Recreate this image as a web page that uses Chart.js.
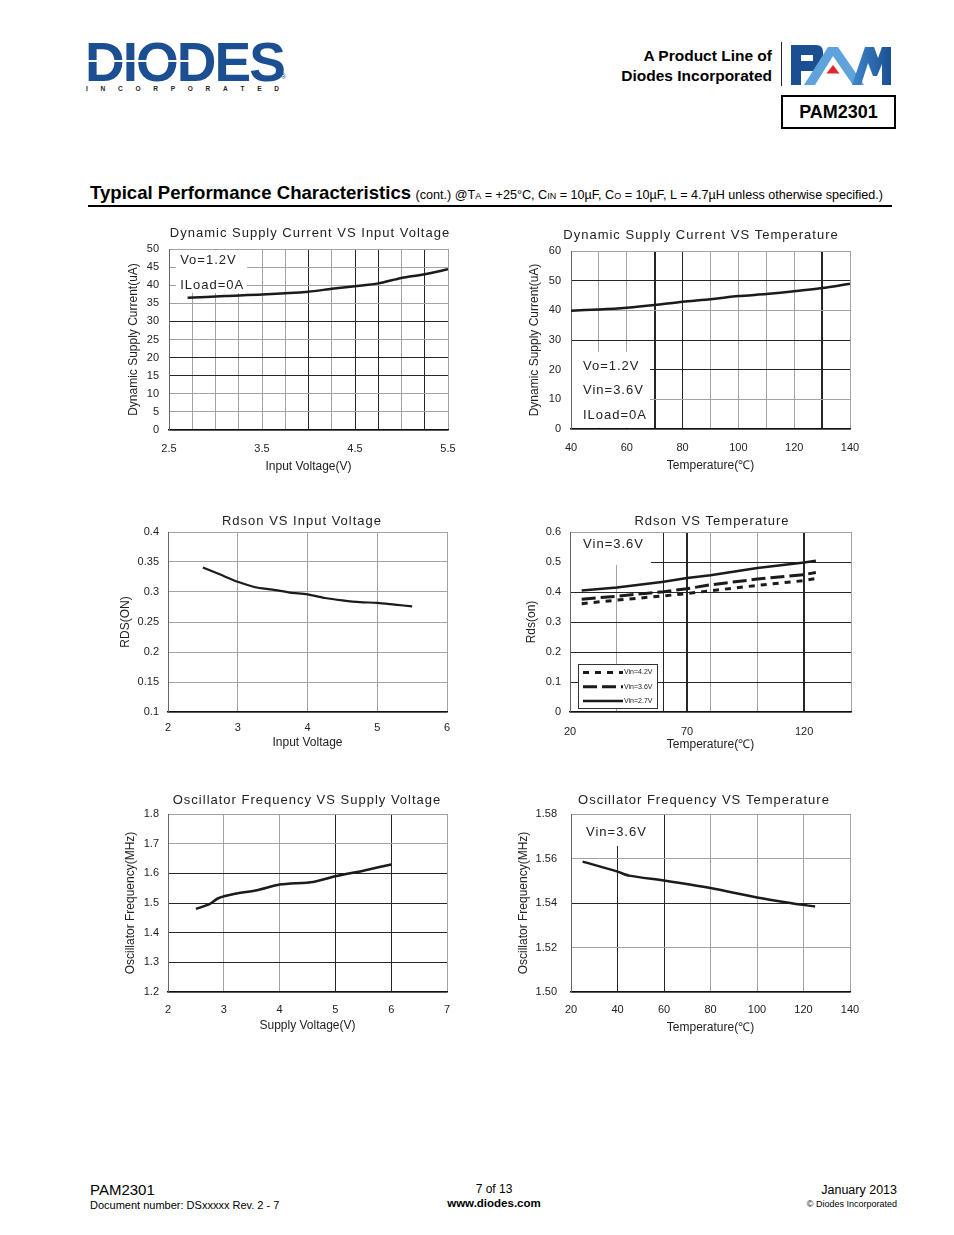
<!DOCTYPE html>
<html>
<head>
<meta charset="utf-8">
<script src="https://cdn.jsdelivr.net/npm/chart.js@4.4.1/dist/chart.umd.min.js"></script>
<style>
  body { margin: 0; background: #fff; font-family: "Liberation Sans", Arial, sans-serif; color: #000; }
  #page { position: relative; width: 954px; height: 1235px; overflow: hidden; background: #fff; }
  .abs { position: absolute; white-space: nowrap; }
  canvas { position: absolute; }
  sub { font-size: 9px; vertical-align: baseline; }
</style>
</head>
<body>
<div id="page">
  <!-- header -->
  <div class="abs" style="left:85px;top:35px;font:bold 55px/55px 'Liberation Sans';letter-spacing:-2px;color:#1b4f92">DIODES</div>
  <div class="abs" style="left:87px;top:60px;width:112px;height:2px;background:#fff"></div>
  <div class="abs" style="left:281px;top:73px;font:7px 'Liberation Sans';color:#1b4f92">®</div>
  <div class="abs" style="left:86px;top:85px;width:193px;display:flex;justify-content:space-between;font:bold 6.5px/7px 'Liberation Sans';color:#222">
    <span>I</span><span>N</span><span>C</span><span>O</span><span>R</span><span>P</span><span>O</span><span>R</span><span>A</span><span>T</span><span>E</span><span>D</span>
  </div>

  <div class="abs" style="right:182px;top:46px;font:bold 15.5px/20px 'Liberation Sans';text-align:right">A Product Line of<br>Diodes Incorporated</div>
  <div class="abs" style="left:781px;top:42px;width:1px;height:44px;background:#222"></div>
  <svg class="abs" style="left:790px;top:44px" width="102" height="44" viewBox="0 0 102 44">
    <defs>
      <linearGradient id="mg" x1="0" x2="1" y1="0" y2="0">
        <stop offset="0" stop-color="#3f86cc"/><stop offset="1" stop-color="#1b4f92"/>
      </linearGradient>
    </defs>
    <path d="M1 1 H26 Q33 1 33 8 V20 Q33 27 26 27 H11 V41 H1 Z M11 11 H23 V17 H11 Z" fill="#1b4f92" fill-rule="evenodd"/>
    <polygon points="14,41 38,3 48,3 74,41 63,41 43,12 25,41" fill="#5ea3db"/>
    <polygon points="36.5,29.5 43,21 49.5,29.5" fill="#e3262d"/>
    <polygon points="62,41 75,3 84,3 88,14 92,3 101,3 101,41 92,41 92,20 87,32 83,32 78,19 71,41" fill="url(#mg)"/>
  </svg>
  <div class="abs" style="left:781px;top:95px;width:111px;height:30px;border:2px solid #000;font:bold 18px/30px 'Liberation Sans';text-align:center">PAM2301</div>

  <!-- section heading -->
  <div class="abs" style="left:90px;top:182px;line-height:18px">
    <span style="font:bold 18.6px 'Liberation Sans'">Typical Performance Characteristics</span>
    <span style="font-size:12.6px">(cont.) @T<sub>A</sub> = +25°C, C<sub>IN</sub> = 10µF, C<sub>O</sub> = 10µF, L = 4.7µH unless otherwise specified.)</span>
  </div>
  <div class="abs" style="left:88px;top:205px;width:804px;height:2px;background:#000"></div>

  <!-- charts -->
  <canvas id="c1" width="336" height="255" style="left:126px;top:219px"></canvas>
  <canvas id="c2" width="337" height="252" style="left:527px;top:221px"></canvas>
  <canvas id="c3" width="343" height="248" style="left:118px;top:502px"></canvas>
  <canvas id="c4" width="341" height="250" style="left:524px;top:502px"></canvas>
  <canvas id="c5" width="338" height="249" style="left:123px;top:784px"></canvas>
  <canvas id="c6" width="348" height="251" style="left:516px;top:784px"></canvas>

  <!-- footer -->
  <div class="abs" style="left:90px;top:1182px;font-size:15px;line-height:15px">PAM2301</div>
  <div class="abs" style="left:90px;top:1200px;font-size:11px;line-height:11px">Document number: DSxxxxx Rev. 2 - 7</div>
  <div class="abs" style="left:394px;width:200px;top:1183px;font-size:12px;line-height:12px;text-align:center">7 of 13</div>
  <div class="abs" style="left:394px;width:200px;top:1198px;font:bold 11.5px/11.5px 'Liberation Sans';text-align:center">www.diodes.com</div>
  <div class="abs" style="right:57px;top:1184px;font-size:12.5px;line-height:12.5px;text-align:right">January 2013</div>
  <div class="abs" style="right:57px;top:1200px;font-size:9px;line-height:9px;text-align:right">© Diodes Incorporated</div>
</div>

<script>
// ---- 1. Dynamic Supply Current VS Input Voltage
const vinA = [2.7, 3.1, 3.5, 4.0, 4.25, 4.5, 4.75, 5.0, 5.25, 5.5];
const iddA = [36.5, 37.0, 37.4, 38.2, 39.0, 39.7, 40.5, 42.0, 43.0, 44.4];
const xLabA = [2.5, 3.5, 4.5, 5.5];

// ---- 2. Dynamic Supply Current VS Temperature
const tempB = [40, 50, 60, 70, 80, 90, 100, 110, 120, 130, 140];
const iddB = [39.9, 40.3, 40.9, 41.8, 42.9, 43.7, 44.8, 45.5, 46.4, 47.5, 49.0];
const xLabB = [40, 60, 80, 100, 120, 140];

// ---- 3. Rdson VS Input Voltage
const vinC = [2.5, 2.75, 3, 3.25, 3.5, 3.75, 4, 4.25, 4.5, 4.75, 5, 5.25, 5.5];
const rdsC = [0.341, 0.329, 0.317, 0.308, 0.304, 0.299, 0.296, 0.290, 0.286, 0.283, 0.282, 0.279, 0.276];

// ---- 4. Rdson VS Temperature
const tempD = [25, 40, 60, 70, 80, 100, 120, 125];
const rds42 = [0.361, 0.373, 0.387, 0.395, 0.404, 0.422, 0.438, 0.445];
const rds36 = [0.376, 0.386, 0.401, 0.411, 0.424, 0.443, 0.458, 0.465];
const rds27 = [0.405, 0.415, 0.434, 0.447, 0.456, 0.480, 0.498, 0.504];
const seriesD = ['Vin=4.2V', 'Vin=3.6V', 'Vin=2.7V'];
const xTickD = [20, 40, 60, 70, 80, 100, 120, 140];
const xLabD = [20, 70, 120];

// ---- 5. Oscillator Frequency VS Supply Voltage
const vinE = [2.5, 2.75, 2.9, 3.2, 3.6, 4.0, 4.6, 5.0, 5.5, 6.0];
const foscE = [1.480, 1.497, 1.516, 1.531, 1.543, 1.562, 1.571, 1.590, 1.609, 1.630];

// ---- 6. Oscillator Frequency VS Temperature
const tempF = [25, 40, 45, 60, 80, 100, 115, 125];
const foscF = [1.5586, 1.5541, 1.5523, 1.5501, 1.5467, 1.5425, 1.5399, 1.5384];

const FONT = '"Liberation Sans", Arial, sans-serif';
const INK = '#1b1b1b', DARK = '#262626', LIGHT = '#a3a3a3', TEXT = '#222';
const near = (arr, v) => arr.some(a => Math.abs(a - v) < 1e-6);
const pts = (xs, ys) => xs.map((x, i) => ({ x, y: ys[i] }));

// chart title above the plot, letter spaced like the datasheet
const heading = {
  id: 'heading',
  afterDraw(chart, args, o) {
    if (!o.text) return;
    const { ctx, chartArea: a } = chart;
    ctx.save();
    ctx.font = '13px ' + FONT; ctx.letterSpacing = '1px';
    ctx.fillStyle = TEXT; ctx.textAlign = 'center'; ctx.textBaseline = 'middle';
    ctx.fillText(o.text, (a.left + a.right) / 2 + (o.dx || 0), a.top - o.gap);
    ctx.restore();
  }
};

// condition notes in white boxes (data units)
const notes = {
  id: 'notes',
  beforeDatasetsDraw(chart, args, o) {
    if (!o.items) return;
    const { ctx, chartArea: a, scales: { x, y } } = chart;
    ctx.save();
    if (o.mask) {
      const [x0, y0, x1, y1] = o.mask;
      const l = Math.max(x.getPixelForValue(x0), a.left + 1), t = Math.max(y.getPixelForValue(y0), a.top + 1);
      const r = Math.min(x.getPixelForValue(x1), a.right - 1), b = Math.min(y.getPixelForValue(y1), a.bottom - 1.5);
      ctx.fillStyle = '#fff'; ctx.fillRect(l, t, r - l, b - t);
    }
    ctx.font = '13px ' + FONT; ctx.letterSpacing = '1px';
    ctx.fillStyle = TEXT; ctx.textBaseline = 'middle';
    o.items.forEach(([txt, vx, vy]) => ctx.fillText(txt, x.getPixelForValue(vx), y.getPixelForValue(vy)));
    ctx.restore();
  }
};

// small boxed legend in the lower left corner of the plot
const boxLegend = {
  id: 'boxLegend',
  afterDatasetsDraw(chart, args, o) {
    if (!o.width) return;
    const { ctx, chartArea: a } = chart;
    const x0 = a.left + o.left, y0 = a.bottom - o.bottom - o.height;
    ctx.save();
    ctx.fillStyle = '#fff'; ctx.fillRect(x0, y0, o.width, o.height);
    ctx.strokeStyle = '#333'; ctx.lineWidth = 1; ctx.strokeRect(x0 + .5, y0 + .5, o.width, o.height);
    chart.data.datasets.forEach((ds, i) => {
      const yy = y0 + 8.5 + i * 14.3;
      ctx.setLineDash(ds.borderDash || []);
      ctx.lineWidth = ds.borderWidth; ctx.strokeStyle = ds.borderColor;
      ctx.beginPath(); ctx.moveTo(x0 + 5, yy); ctx.lineTo(x0 + 45, yy); ctx.stroke();
      ctx.setLineDash([]);
      ctx.font = '7px ' + FONT; ctx.fillStyle = TEXT; ctx.textBaseline = 'middle';
      ctx.fillText(ds.label, x0 + 46, yy);
    });
    ctx.restore();
  }
};

function axis(o) {
  const s = {
    type: 'linear', min: o.min, max: o.max,
    grid: {
      drawTicks: false,
      color: c => near(o.dark || [], c.tick.value) || near(o.thick || [], c.tick.value) ? DARK : LIGHT,
      lineWidth: c => near(o.thick || [], c.tick.value) ? 2 : 1
    },
    border: { color: o.borderColor, width: o.borderWidth },
    ticks: {
      stepSize: o.step, autoSkip: false, maxRotation: 0, padding: o.pad, color: TEXT,
      font: { family: FONT, size: 11 },
      callback: v => (!o.labels || near(o.labels, v)) ? (o.fmt ? o.fmt(v) : String(v)) : ''
    },
    title: { display: true, text: o.title, color: TEXT, font: { family: FONT, size: 12 }, padding: 0 },
    afterFit: o.fit
  };
  if (o.ticksAt) s.afterBuildTicks = sc => { sc.ticks = o.ticksAt.map(value => ({ value })); };
  return s;
}

// fixed axis sizes so the plot box lands where the datasheet has it
const fitX = h => s => { s.height = h; s.paddingLeft = 0; s.paddingRight = 0; };
const fitY = w => s => { s.width = w; s.paddingTop = 0; s.paddingBottom = 0; };

function makeChart(id, c) {
  return new Chart(document.getElementById(id), {
    type: 'line',
    data: {
      datasets: c.datasets.map(d => Object.assign({
        borderColor: INK, borderWidth: 2.5, pointRadius: 0, tension: 0.25, fill: false,
        borderCapStyle: 'butt', borderJoinStyle: 'round'
      }, d))
    },
    options: {
      responsive: false, animation: false, events: [],
      layout: { padding: { top: c.top, right: c.right, left: 0, bottom: 0 } },
      plugins: {
        legend: { display: false }, tooltip: { enabled: false },
        heading: c.heading, notes: c.notes || {}, boxLegend: c.legend || {}
      },
      scales: {
        x: axis(Object.assign({}, c.x, { borderColor: '#111', borderWidth: 1.5, fit: fitX(c.xh) })),
        y: axis(Object.assign({}, c.y, { borderColor: '#666', borderWidth: 1, fit: fitY(c.yw) }))
      }
    },
    plugins: [heading, notes, boxLegend]
  });
}

makeChart('c1', {
  top: 30, right: 14, xh: 44, yw: 43,
  heading: { text: 'Dynamic Supply Current VS Input Voltage', dx: 1.5, gap: 16 },
  notes: { mask: [2.575, 49.7, 3.34, 37.85], items: [['Vo=1.2V', 2.62, 46.96], ['ILoad=0A', 2.62, 40.06]] },
  x: { min: 2.5, max: 5.5, step: 0.25, labels: xLabA, dark: [4, 4.5, 4.75, 5.25], pad: 12, title: 'Input Voltage(V)' },
  y: { min: 0, max: 50, step: 5, dark: [15, 20, 30], pad: 10, title: 'Dynamic Supply Current(uA)' },
  datasets: [{ data: pts(vinA, iddA) }]
});

makeChart('c2', {
  top: 30, right: 14, xh: 44, yw: 44,
  heading: { text: 'Dynamic Supply Current VS Temperature', dx: -9.5, gap: 15.3 },
  notes: { mask: [40, 25.95, 68.3, 0], items: [['Vo=1.2V', 44.3, 21.0], ['Vin=3.6V', 44.3, 12.9], ['ILoad=0A', 44.3, 4.7]] },
  x: { min: 40, max: 140, step: 10, labels: xLabB, thick: [70, 130], dark: [80], pad: 12, title: 'Temperature(℃)' },
  y: { min: 0, max: 60, step: 10, dark: [20, 30, 50], pad: 10, title: 'Dynamic Supply Current(uA)' },
  datasets: [{ data: pts(tempB, iddB) }]
});

makeChart('c3', {
  top: 30, right: 14, xh: 38, yw: 50,
  heading: { text: 'Rdson VS Input Voltage', dx: -5.5, gap: 10.7 },
  x: { min: 2, max: 6, step: 1, pad: 9, title: 'Input Voltage' },
  y: { min: 0.1, max: 0.4, step: 0.05, pad: 9, title: 'RDS(ON)', fmt: v => String(+v.toFixed(2)) },
  datasets: [{ data: pts(vinC, rdsC), borderWidth: 2.2 }]
});

makeChart('c4', {
  top: 30, right: 14, xh: 40, yw: 46,
  heading: { text: 'Rdson VS Temperature', dx: 1.5, gap: 10.7 },
  notes: { mask: [20, 0.6, 54.6, 0.49], items: [['Vin=3.6V', 25.6, 0.557]] },
  legend: { left: 8, bottom: 4, width: 79, height: 44 },
  x: { min: 20, max: 140, ticksAt: xTickD, labels: xLabD, thick: [70, 120], dark: [60], pad: 13, title: 'Temperature(℃)' },
  y: { min: 0, max: 0.6, step: 0.1, dark: [0.1, 0.2, 0.3, 0.4, 0.5], pad: 9, title: 'Rds(on)', fmt: v => v === 0 ? '0' : v.toFixed(1) },
  datasets: [
    { label: seriesD[0], data: pts(tempD, rds42), borderWidth: 3, borderDash: [6, 6], tension: 0 },
    { label: seriesD[1], data: pts(tempD, rds36), borderWidth: 3, borderDash: [14, 5], tension: 0 },
    { label: seriesD[2], data: pts(tempD, rds27), borderWidth: 2.5, tension: 0 }
  ]
});

makeChart('c5', {
  top: 30, right: 14, xh: 41, yw: 45,
  heading: { text: 'Oscillator Frequency VS Supply Voltage', dx: -0.5, gap: 13.3 },
  x: { min: 2, max: 7, step: 1, dark: [5, 6], pad: 11, title: 'Supply Voltage(V)' },
  y: { min: 1.2, max: 1.8, step: 0.1, dark: [1.3, 1.4, 1.5, 1.6], pad: 9, title: 'Oscillator Frequency(MHz)', fmt: v => v.toFixed(1) },
  datasets: [{ data: pts(vinE, foscE) }]
});

makeChart('c6', {
  top: 30, right: 14, xh: 43, yw: 55,
  heading: { text: 'Oscillator Frequency VS Temperature', dx: -6.5, gap: 13.5 },
  notes: { mask: [20, 1.58, 54, 1.5656], items: [['Vin=3.6V', 26.45, 1.5716]] },
  x: { min: 20, max: 140, step: 20, dark: [40, 60], pad: 11, title: 'Temperature(℃)' },
  y: { min: 1.5, max: 1.58, step: 0.02, dark: [1.54], pad: 14, title: 'Oscillator Frequency(MHz)', fmt: v => v.toFixed(2) },
  datasets: [{ data: pts(tempF, foscF) }]
});
</script>
</body>
</html>
